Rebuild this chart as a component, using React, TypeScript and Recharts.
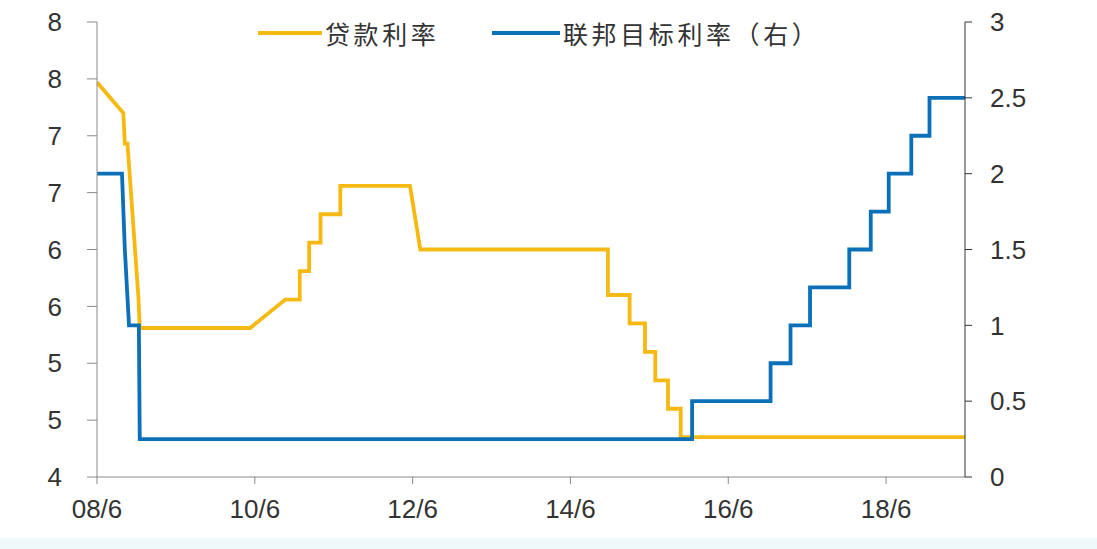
import React from 'react';
import { LineChart, Line, XAxis, YAxis } from 'recharts';

// China 1-year benchmark lending rate (left axis, %)
const loanDates = [
  '2008-06-01', '2008-10-01', '2008-10-08', '2008-10-20', '2008-12-10', '2008-12-16',
  '2010-05-10', '2010-10-20', '2010-12-26', '2010-12-26', '2011-02-09', '2011-02-09',
  '2011-03-31', '2011-03-31', '2011-07-01', '2011-07-01', '2012-05-19', '2012-07-06',
  '2014-11-22', '2014-11-22', '2015-03-01', '2015-03-01', '2015-05-11', '2015-05-11',
  '2015-06-28', '2015-06-28', '2015-08-26', '2015-08-26', '2015-10-24', '2015-10-24',
  '2019-06-01',
];
const loanRates = [
  7.47, 7.2, 6.93, 6.93, 5.58, 5.31,
  5.31, 5.56, 5.56, 5.81, 5.81, 6.06,
  6.06, 6.31, 6.31, 6.56, 6.56, 6.0,
  6.0, 5.6, 5.6, 5.35, 5.35, 5.1,
  5.1, 4.85, 4.85, 4.6, 4.6, 4.35,
  4.35,
];

// US federal funds target rate (right axis, %)
const fedDates = [
  '2008-06-01', '2008-09-25', '2008-10-08', '2008-10-27', '2008-12-12', '2008-12-16',
  '2015-12-16', '2015-12-16', '2016-12-14', '2016-12-14', '2017-03-15', '2017-03-15',
  '2017-06-14', '2017-06-14', '2017-12-13', '2017-12-13', '2018-03-21', '2018-03-21',
  '2018-06-13', '2018-06-13', '2018-09-26', '2018-09-26', '2018-12-19', '2018-12-19',
  '2019-06-01',
];
const fedRates = [
  2.0, 2.0, 1.5, 1.0, 1.0, 0.25,
  0.25, 0.5, 0.5, 0.75, 0.75, 1.0,
  1.0, 1.25, 1.25, 1.5, 1.5, 1.75,
  1.75, 2.0, 2.0, 2.25, 2.25, 2.5,
  2.5,
];

const xTickDates = ['2008-06-01', '2010-06-01', '2012-06-01', '2014-06-01', '2016-06-01', '2018-06-01'];
const xTickLabels = ['08/6', '10/6', '12/6', '14/6', '16/6', '18/6'];
const xEndDate = '2019-06-01';

const leftTicks = [4, 4.5, 5, 5.5, 6, 6.5, 7, 7.5, 8];
const leftTickLabels = ['4', '5', '5', '6', '6', '7', '7', '8', '8'];
const rightTicks = [0, 0.5, 1, 1.5, 2, 2.5, 3];
const rightTickLabels = ['0', '0.5', '1', '1.5', '2', '2.5', '3'];

const seriesNames = ['贷款利率', '联邦目标利率（右）'];

// months elapsed since June 2008
const toMonths = (date: string) => {
  const [y, m, d] = date.split('-').map(Number);
  return (y - 2008) * 12 + (m - 6) + (d - 1) / 30;
};

const loanData = loanDates.map((d, i) => ({ t: toMonths(d), v: loanRates[i] }));
const fedData = fedDates.map((d, i) => ({ t: toMonths(d), v: fedRates[i] }));
const xTicks = xTickDates.map(toMonths);

const YELLOW = '#F6B912';
const BLUE = '#0B70B8';
const tickFont = { fontSize: 26, fill: '#333', fontFamily: 'Liberation Sans, Arial, sans-serif' };

const LegendItem = ({ color, label, left, lineWidth }: { color: string; label: string; left: number; lineWidth: number }) => (
  <div style={{ position: 'absolute', left, top: 16, display: 'flex', alignItems: 'center' }}>
    <div style={{ width: lineWidth, height: 4, background: color, marginRight: 3 }} />
    <span
      style={{
        fontFamily: '"Noto Sans CJK SC", sans-serif',
        fontSize: 25,
        letterSpacing: 3.6,
        color: '#333',
        lineHeight: '34px',
        whiteSpace: 'nowrap',
      }}
    >
      {label}
    </span>
  </div>
);

export default function App() {
  return (
    <div style={{ position: 'fixed', left: 0, top: 0, width: 1097, height: 549, background: '#fff', overflow: 'hidden' }}>
      <div style={{ position: 'absolute', left: 0, top: 538, width: 1097, height: 11, background: '#eef8fb' }} />
      <LineChart width={1097} height={549} margin={{ top: 22, right: 0, bottom: 0, left: 0 }}>
        <XAxis
          dataKey="t"
          type="number"
          domain={[0, toMonths(xEndDate)]}
          ticks={xTicks}
          tickFormatter={(v: number) => xTickLabels[xTicks.indexOf(v)] ?? ''}
          height={72}
          tickSize={7}
          tickMargin={16}
          stroke="#8a8a8a"
          tick={tickFont}
          allowDataOverflow
        />
        <YAxis
          yAxisId="left"
          domain={[4, 8]}
          ticks={leftTicks}
          tickFormatter={(v: number) => leftTickLabels[leftTicks.indexOf(v)] ?? ''}
          width={97}
          tickSize={10}
          tickMargin={25}
          stroke="#8a8a8a"
          tick={tickFont}
          interval={0}
        />
        <YAxis
          yAxisId="right"
          orientation="right"
          domain={[0, 3]}
          ticks={rightTicks}
          tickFormatter={(v: number) => rightTickLabels[rightTicks.indexOf(v)] ?? ''}
          width={132}
          tickSize={7}
          tickMargin={18}
          stroke="#333"
          tick={tickFont}
          interval={0}
        />
        <Line
          yAxisId="left"
          data={loanData}
          dataKey="v"
          name={seriesNames[0]}
          stroke={YELLOW}
          strokeWidth={3.8}
          dot={false}
          type="linear"
          isAnimationActive={false}
        />
        <Line
          yAxisId="right"
          data={fedData}
          dataKey="v"
          name={seriesNames[1]}
          stroke={BLUE}
          strokeWidth={3.8}
          dot={false}
          type="linear"
          isAnimationActive={false}
        />
      </LineChart>
      <LegendItem color={YELLOW} label={seriesNames[0]} left={258} lineWidth={64} />
      <LegendItem color={BLUE} label={seriesNames[1]} left={492} lineWidth={68} />
    </div>
  );
}
